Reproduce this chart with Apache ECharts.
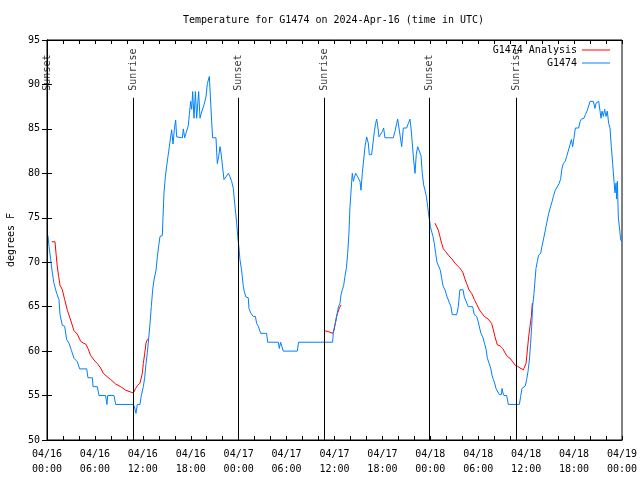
<!DOCTYPE html>
<html>
<head>
<meta charset="utf-8">
<script src="https://cdn.jsdelivr.net/npm/echarts@6/dist/echarts.min.js"></script>
<style>html,body{margin:0;padding:0;background:#fff}#c{width:640px;height:480px}</style>
</head>
<body>
<div id="c"></div>
<script>
// ---- data (hours since 2024-04-16 00:00 UTC) ----
const titleText = 'Temperature for G1474 on 2024-Apr-16 (time in UTC)';
const xTickLabels = ['04/16\n00:00','04/16\n06:00','04/16\n12:00','04/16\n18:00','04/17\n00:00','04/17\n06:00','04/17\n12:00','04/17\n18:00','04/18\n00:00','04/18\n06:00','04/18\n12:00','04/18\n18:00','04/19\n00:00'];
const sunsetHours = [0.0, 23.95, 47.88];
const sunriseHours = [10.8, 34.74, 58.74];

const obsHours = [0.12,0.25,0.46,0.67,0.88,1.21,1.5,1.63,1.92,2.21,2.46,2.75,3.05,3.38,3.8,4.09,4.97,5.13,5.68,5.76,6.3,6.51,7.34,7.5,7.6,8.39,8.6,10.81,10.98,11.14,11.31,11.64,11.81,12.06,12.23,12.4,12.56,12.73,12.9,13.06,13.23,13.4,13.65,13.82,13.98,14.15,14.44,14.53,14.65,14.82,14.98,15.15,15.32,15.48,15.61,15.78,15.94,16.11,16.24,16.45,16.95,17.07,17.24,17.49,17.7,17.82,17.99,18.12,18.24,18.41,18.58,18.74,18.99,19.16,19.37,19.66,19.91,20.08,20.33,20.5,20.62,20.74,21.16,21.25,21.33,21.5,21.66,21.79,22.0,22.16,22.41,22.71,22.92,23.12,23.33,23.46,23.63,23.75,23.88,24.04,24.16,24.33,24.45,24.58,24.7,24.9,25.2,25.29,25.5,25.83,26.1,26.25,26.46,26.75,27.5,27.63,28.96,29.09,29.25,29.42,29.59,31.34,31.5,35.76,35.85,36.0,36.2,36.35,36.5,36.69,36.81,36.98,37.15,37.31,37.48,37.65,37.81,37.94,38.06,38.15,38.23,38.36,38.5,38.65,38.9,39.19,39.32,39.48,39.65,39.82,40.03,40.23,40.36,40.65,40.82,40.99,41.15,41.28,41.4,41.57,41.8,41.99,42.15,42.32,43.36,43.57,43.78,43.91,44.12,44.24,44.41,44.62,45.03,45.24,45.45,45.58,45.74,45.91,46.08,46.24,46.41,46.66,46.83,46.99,47.16,47.33,47.5,47.66,47.83,47.9,48.0,48.17,48.33,48.5,48.67,48.83,49.08,49.25,49.42,49.6,49.83,50.1,50.25,50.4,50.58,50.75,51.3,51.5,51.7,52.1,52.25,52.5,52.75,53.3,53.5,53.8,54.0,54.17,54.34,54.6,54.78,55.0,55.14,55.39,55.56,55.72,55.89,56.06,56.22,56.47,56.64,56.9,56.98,57.06,57.22,57.56,57.77,59.15,59.31,59.48,59.65,59.9,60.06,60.23,60.4,60.56,60.69,60.81,60.98,61.11,61.23,61.4,61.56,61.82,61.98,62.15,62.4,62.57,62.82,63.07,63.24,63.4,63.65,63.9,64.15,64.32,64.49,64.66,64.91,65.07,65.32,65.49,65.66,65.82,65.99,66.16,66.58,66.74,66.91,67.24,67.41,67.66,67.83,68.0,68.41,68.62,68.75,68.91,69.08,69.25,69.37,69.5,69.66,69.83,70.0,70.16,70.33,70.5,70.66,70.83,71.0,71.12,71.25,71.33,71.42,71.54,71.67,71.84,72.0];
const obsTemps = [73.0,71.8,70.3,68.8,67.6,66.5,65.8,64.1,62.9,62.8,61.3,60.9,60.1,59.2,58.8,58.0,58.0,57.0,57.0,56.0,56.0,55.0,55.0,54.0,55.0,55.0,54.0,54.0,53.6,53.0,54.0,54.0,55.0,56.0,57.0,58.6,59.8,61.4,63.1,65.0,66.9,68.0,69.1,70.6,71.8,72.9,73.0,75.1,77.8,79.6,80.8,81.9,83.0,84.1,84.9,83.3,84.9,86.0,84.1,84.0,84.0,85.0,84.0,84.0,85.4,86.6,88.1,87.2,89.2,86.2,89.2,86.2,89.2,86.2,86.9,87.7,88.6,90.1,90.9,91.0,85.8,84.0,84.0,82.3,81.1,81.9,83.0,82.3,80.6,79.3,79.6,80.0,79.6,79.1,78.3,77.0,75.5,74.4,72.9,71.6,70.3,69.3,68.4,67.3,66.7,66.1,66.0,64.8,64.3,63.9,63.9,63.1,62.8,62.0,62.0,61.0,61.0,60.3,61.0,60.5,60.0,60.0,61.0,61.0,62.0,62.8,63.5,64.3,65.0,65.4,66.3,66.9,67.4,68.4,69.3,71.0,73.3,76.3,77.8,79.1,80.0,79.1,79.6,80.0,79.6,79.1,78.1,80.0,81.5,83.0,84.1,83.4,82.1,82.1,83.4,84.7,85.6,86.1,85.4,84.1,84.1,84.7,85.1,84.0,84.0,84.7,85.6,86.1,86.1,84.1,83.0,85.1,85.1,85.6,86.1,85.1,83.4,81.5,80.0,82.1,83.0,82.9,82.0,80.0,78.7,78.1,77.4,76.3,75.1,74.8,74.0,73.8,72.9,72.1,71.0,70.0,69.8,69.1,68.2,67.3,66.9,66.1,66.0,65.4,65.0,64.1,64.1,65.0,66.9,66.9,66.1,66.0,65.0,65.0,64.1,63.9,63.3,62.6,62.0,61.5,60.9,60.1,59.2,59.0,58.1,57.3,56.8,56.4,55.8,55.8,55.1,55.1,55.8,55.4,55.0,55.0,54.0,54.0,54.9,55.8,55.9,56.1,56.8,57.7,59.0,60.9,62.8,65.0,66.5,68.0,69.3,70.1,70.8,71.0,71.8,72.5,73.6,74.4,75.5,76.3,76.8,77.4,78.1,78.3,78.9,79.4,80.6,81.1,81.4,81.9,82.1,83.2,83.8,83.0,84.0,85.1,85.1,85.8,86.1,86.2,86.6,87.1,87.2,88.1,88.1,87.3,87.9,88.1,88.1,87.0,86.2,87.0,86.4,87.2,86.4,87.0,85.6,85.1,83.0,81.1,79.1,77.8,78.9,77.1,79.1,75.1,74.0,72.5,72.3];

const anaHours = [0.6,1.0,1.13,1.29,1.46,1.63,1.92,2.21,2.55,2.96,3.38,3.8,4.22,4.55,4.84,5.13,5.47,5.88,6.3,6.72,7.05,7.55,7.97,8.6,9.22,9.85,10.47,10.81,11.1,11.31,11.64,11.81,11.94,12.06,12.23,12.4,12.56,12.73,24.0,34.72,35.2,35.76,35.95,36.1,36.25,36.4,36.6,36.81,42.0,48.58,48.83,49.0,49.2,49.42,49.63,49.92,50.25,50.67,51.08,51.5,51.84,52.09,52.34,52.59,52.84,53.17,53.51,53.84,54.17,54.42,54.76,55.25,55.68,55.89,56.1,56.39,56.72,57.06,57.35,57.64,57.98,58.31,58.64,58.9,59.23,59.65,59.86,59.98,60.15,60.31,60.48,60.65,60.77];
const anaTemps = [72.3,72.3,71.0,69.5,68.4,67.4,66.9,65.8,64.6,63.5,62.3,61.9,61.1,60.9,60.8,60.3,59.5,59.0,58.6,58.1,57.5,57.1,56.8,56.3,56.0,55.6,55.4,55.3,55.8,56.1,56.4,56.6,57.5,58.6,59.7,60.9,61.3,61.4,null,62.3,62.2,62.0,62.4,63.1,63.9,64.3,64.8,65.2,null,74.4,74.4,73.6,72.9,72.1,71.5,71.2,70.8,70.4,69.9,69.5,69.2,68.8,68.1,67.5,66.9,66.5,65.8,65.2,64.6,64.3,63.9,63.6,63.1,62.4,61.6,60.7,60.6,60.3,59.8,59.4,59.2,58.8,58.4,58.3,58.1,57.9,57.7,58.6,60.1,61.6,62.8,63.9,65.4];

// ---- chart ----
const FONT = 'DejaVu Sans Mono';
const LABEL_BASE = 89.3;   // degrees F where the rotated sun labels begin
const LINE_TOP = 88.5;     // degrees F where sun lines end

const pairs = (xs, ys) => xs.map((x, i) => [x, ys[i] === null ? '-' : ys[i]]);
const sunPoints = sunsetHours.map(h => ({ value: [h, LABEL_BASE], label: { formatter: 'Sunset' } }))
  .concat(sunriseHours.map(h => ({ value: [h, LABEL_BASE], label: { formatter: 'Sunrise' } })));
const sunLines = sunsetHours.concat(sunriseHours).map(h => [{ coord: [h, 50] }, { coord: [h, LINE_TOP] }]);

const axisCommon = {
  type: 'value', min: 0, max: 72, interval: 6,
  axisLine: { show: true, lineStyle: { color: '#000', width: 1 } },
  axisTick: { show: true, inside: true, length: 4, lineStyle: { color: '#000' } },
  minorTick: { show: true, splitNumber: 3, length: 4, lineStyle: { color: '#000' } },
  splitLine: { show: false }, minorSplitLine: { show: false }
};
const yCommon = {
  type: 'value', min: 50, max: 95, interval: 5,
  axisLine: { show: true, lineStyle: { color: '#000', width: 1 } },
  axisTick: { show: true, inside: true, length: 5, lineStyle: { color: '#000' } },
  splitLine: { show: false }
};

const chart = echarts.init(document.getElementById('c'));
chart.setOption({
  animation: false,
  backgroundColor: '#fff',
  title: {
    text: titleText, left: 183, top: 15, padding: 0,
    textStyle: { fontFamily: FONT, fontSize: 10, fontWeight: 'normal', color: '#000' }
  },
  legend: {
    data: ['G1474 Analysis', 'G1474'],
    orient: 'vertical', align: 'right', right: 30, top: 44, padding: 0,
    icon: 'rect', itemWidth: 28, itemHeight: 1, itemGap: 1,
    textStyle: { fontFamily: FONT, fontSize: 10, color: '#000', lineHeight: 12 }
  },
  grid: { left: 47, right: 18, top: 40, bottom: 40, containLabel: false, outerBoundsMode: 'none',
    show: true, borderColor: '#000', borderWidth: 1, backgroundColor: 'transparent' },
  xAxis: [
    Object.assign({}, axisCommon, {
      position: 'bottom',
      axisLabel: { show: true, margin: 7, fontFamily: FONT, fontSize: 10, color: '#000', lineHeight: 15,
        formatter: v => xTickLabels[Math.round(v / 6)] }
    }),
    Object.assign({}, axisCommon, { position: 'top', axisLabel: { show: false } })
  ],
  yAxis: [
    Object.assign({}, yCommon, {
      position: 'left',
      name: 'degrees F', nameLocation: 'middle', nameRotate: 90, nameGap: 31,
      nameTextStyle: { fontFamily: FONT, fontSize: 10, color: '#000' },
      axisLabel: { show: true, margin: 7, fontFamily: FONT, fontSize: 10, color: '#000' }
    }),
    Object.assign({}, yCommon, { position: 'right', axisLabel: { show: false } })
  ],
  series: [
    {
      name: 'G1474 Analysis', type: 'line', data: pairs(anaHours, anaTemps),
      symbol: 'none', connectNulls: false, color: '#ff0000',
      lineStyle: { color: '#ff0000', width: 1 }
    },
    {
      name: 'G1474', type: 'line', data: pairs(obsHours, obsTemps),
      symbol: 'none', color: '#0080ff',
      lineStyle: { color: '#0080ff', width: 1 }
    },
    {
      name: 'sun', type: 'scatter', data: sunPoints, symbolSize: 0, silent: true, clip: false,
      label: { show: true, position: 'inside', rotate: 90, align: 'left', verticalAlign: 'middle',
        fontFamily: FONT, fontSize: 10, color: '#000' },
      markLine: {
        silent: true, symbol: 'none', animation: false,
        lineStyle: { color: '#000', width: 1, type: 'solid' },
        label: { show: false },
        data: sunLines
      }
    }
  ]
});
</script>
</body>
</html>
